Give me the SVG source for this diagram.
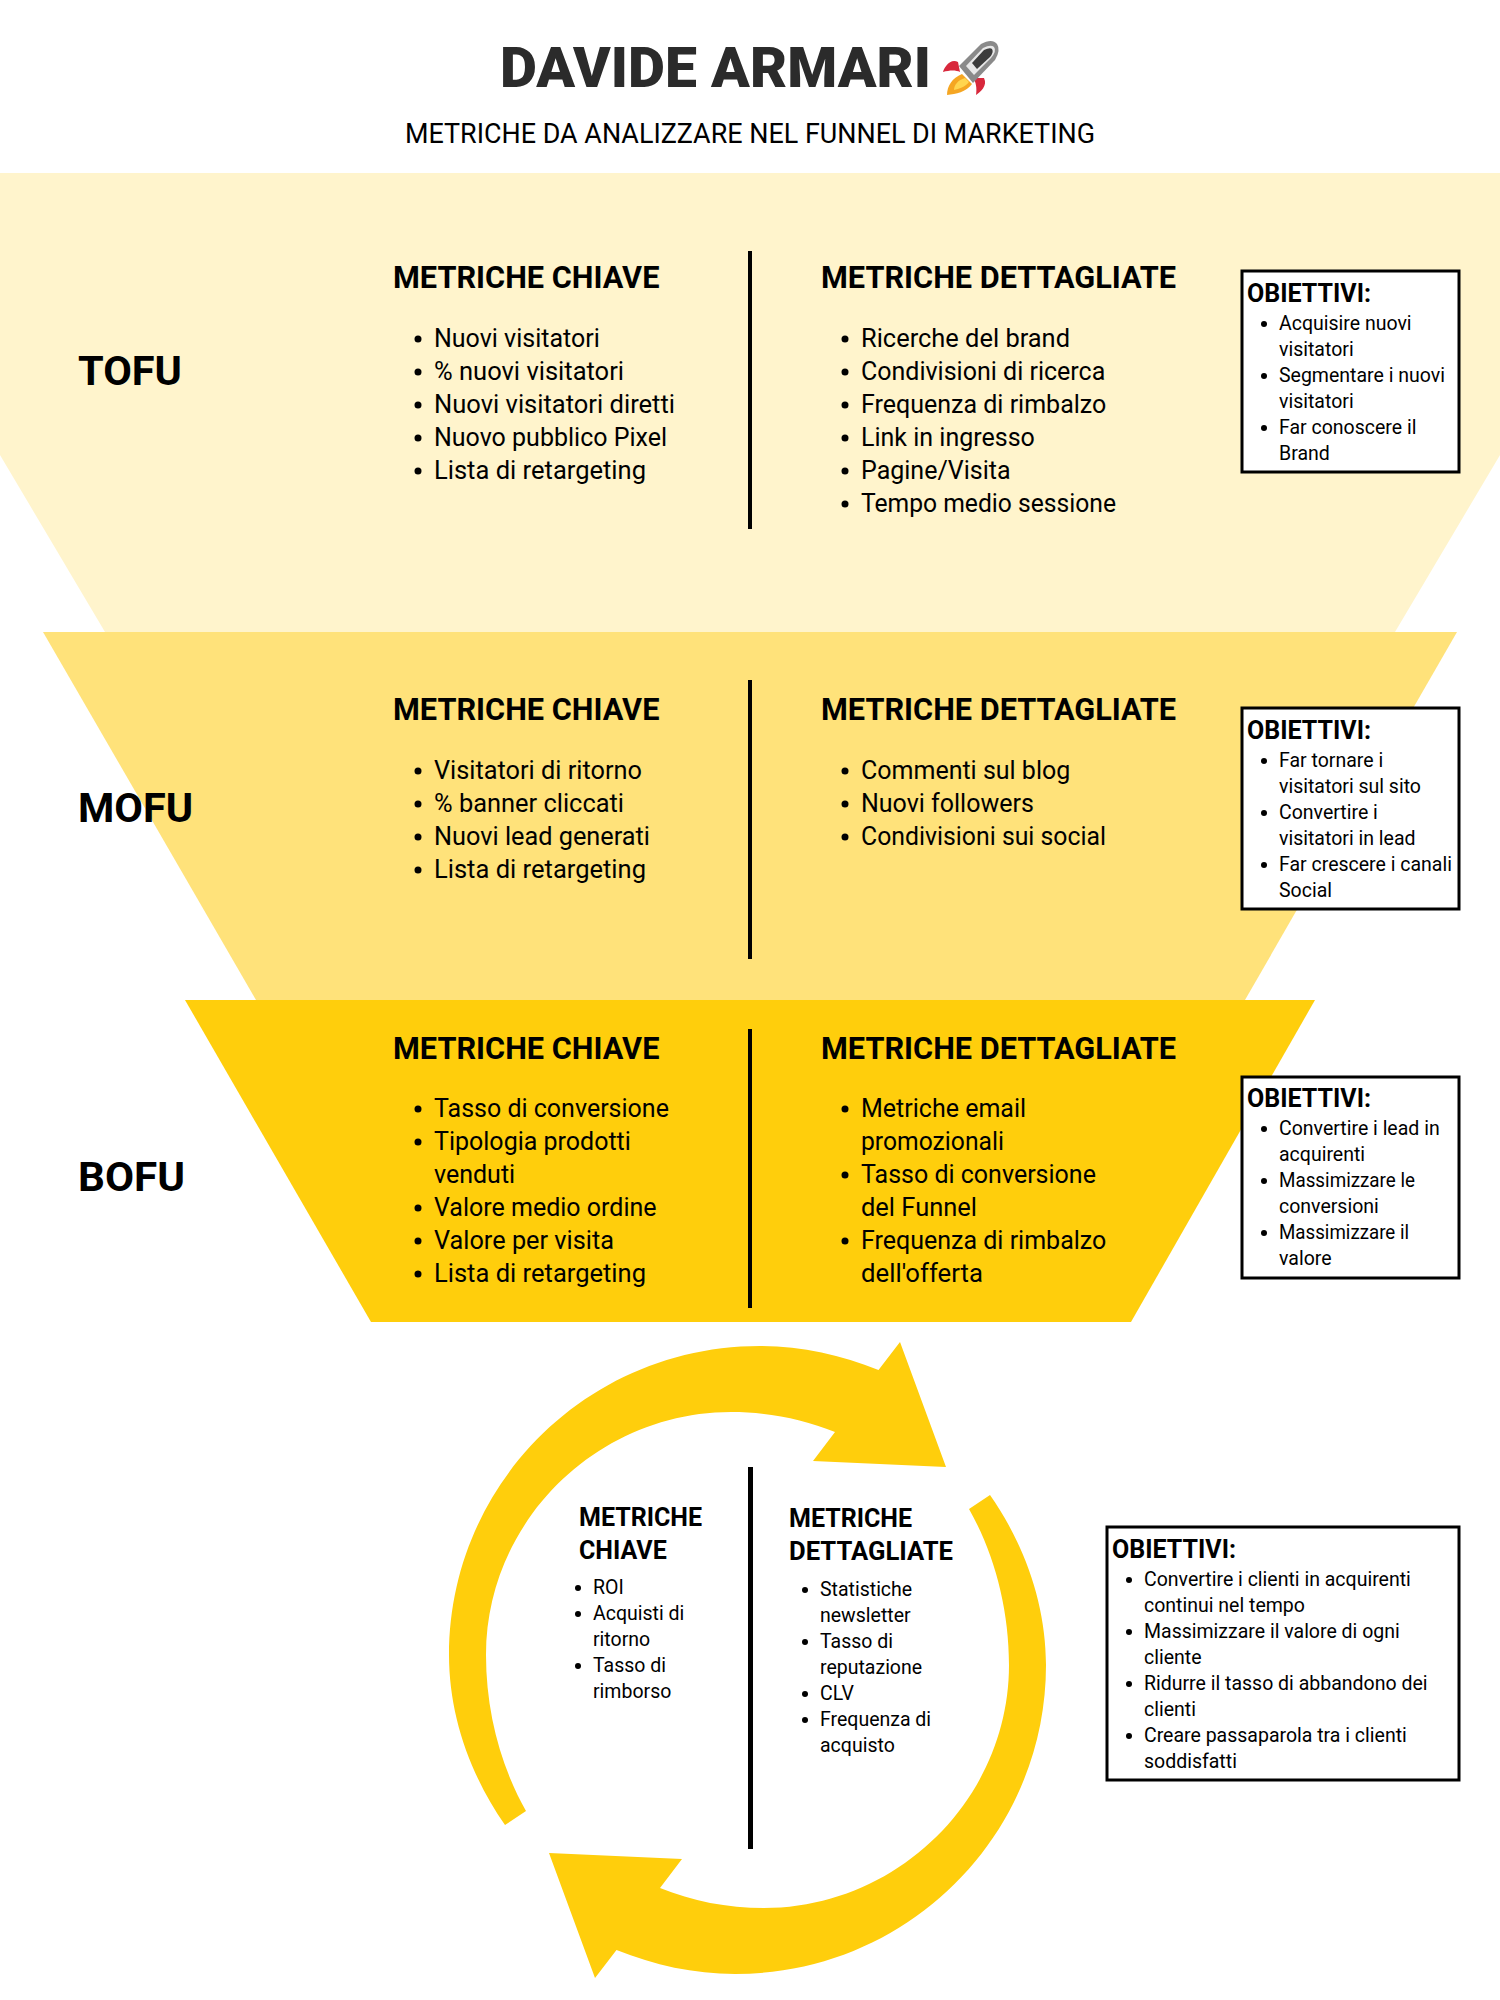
<svg xmlns="http://www.w3.org/2000/svg" width="1500" height="2000" viewBox="0 0 1500 2000">
<style>
text{font-family:Roboto,"Liberation Sans",sans-serif;fill:#000}
.h{font-size:30.7px;font-weight:700}
.l{font-size:25px}
.f{font-size:41.5px;font-weight:700}
.ot{font-size:25px;font-weight:700}
.o{font-size:19.5px}
.rh{font-size:25px;font-weight:700}
.div{fill:#000}
.box{fill:#fff;stroke:#000;stroke-width:3}
.y{fill:#ffce0c}
circle{fill:#000}
</style>
<rect width="1500" height="2000" fill="#fff"/>
<g id="header">
<text x="500" y="87" font-size="55" font-weight="900" style="fill:#2b2b2b" textLength="431" lengthAdjust="spacingAndGlyphs">DAVIDE ARMARI</text>
<text x="405" y="143" font-size="27" textLength="690" lengthAdjust="spacingAndGlyphs">METRICHE DA ANALIZZARE NEL FUNNEL DI MARKETING</text>
<g id="rocket">
<path d="M958 62C950 58 944 68 943 72C950 70 956 70 960 72Z" fill="#d8283c"/>
<path d="M984 78C988 86 980 92 976 95C977 88 976 82 973 78Z" fill="#d8283c"/>
<path d="M962 74L972 84C966 92 956 94 947 95C947 86 952 78 962 74Z" fill="#f5a623"/>
<path d="M965 78L969 82C965 87 959 89 954 90C954 85 958 80 965 78Z" fill="#ffd54f"/>
<path d="M959 66L981 44Q992 38 997 44Q1001 50 995 60L973 83Z" fill="#8a8a8a"/>
<path d="M966 66L983 48Q991 44 994 47Q997 51 991 58L974 75Z" fill="#e8e8e8"/>
<path d="M972 63L984 50Q990 47 992 49Q994 52 990 57L977 69Z" fill="#3c3c3c"/>
</g>
</g>
<g id="tofu">
<path d="M0 173H1500V455L1395 632H105L0 455Z" fill="#fff4cc"/>
<text class="f" x="78" y="385">TOFU</text>
<text class="h" x="393" y="288">METRICHE CHIAVE</text>
<text class="l" x="434" y="347">Nuovi visitatori</text>
<text class="l" x="434" y="380" textLength="190" lengthAdjust="spacingAndGlyphs">% nuovi visitatori</text>
<text class="l" x="434" y="413" textLength="241" lengthAdjust="spacingAndGlyphs">Nuovi visitatori diretti</text>
<text class="l" x="434" y="446">Nuovo pubblico Pixel</text>
<text class="l" x="434" y="479" textLength="212" lengthAdjust="spacingAndGlyphs">Lista di retargeting</text>
<g><circle cx="418" cy="339" r="3.5"/><circle cx="418" cy="372" r="3.5"/><circle cx="418" cy="405" r="3.5"/><circle cx="418" cy="438" r="3.5"/><circle cx="418" cy="471" r="3.5"/></g>
<rect class="div" x="748" y="251" width="4" height="278"/>
<text class="h" x="821" y="288">METRICHE DETTAGLIATE</text>
<text class="l" x="861" y="347" textLength="209" lengthAdjust="spacingAndGlyphs">Ricerche del brand</text>
<text class="l" x="861" y="380">Condivisioni di ricerca</text>
<text class="l" x="861" y="413">Frequenza di rimbalzo</text>
<text class="l" x="861" y="446">Link in ingresso</text>
<text class="l" x="861" y="479">Pagine/Visita</text>
<text class="l" x="861" y="512" textLength="255" lengthAdjust="spacingAndGlyphs">Tempo medio sessione</text>
<g><circle cx="845" cy="339" r="3.5"/><circle cx="845" cy="372" r="3.5"/><circle cx="845" cy="405" r="3.5"/><circle cx="845" cy="438" r="3.5"/><circle cx="845" cy="471" r="3.5"/><circle cx="845" cy="504" r="3.5"/></g>
<g id="obiettivi-tofu">
<rect class="box" x="1242" y="271" width="217" height="201"/>
<text class="ot" x="1247" y="302">OBIETTIVI:</text>
<text class="o" x="1279" y="330">Acquisire nuovi</text>
<text class="o" x="1279" y="356">visitatori</text>
<text class="o" x="1279" y="382">Segmentare i nuovi</text>
<text class="o" x="1279" y="408">visitatori</text>
<text class="o" x="1279" y="434">Far conoscere il</text>
<text class="o" x="1279" y="460">Brand</text>
<g><circle cx="1264" cy="324" r="3"/><circle cx="1264" cy="376" r="3"/><circle cx="1264" cy="428" r="3"/></g>
</g>
</g>
<g id="mofu">
<path d="M43 632H1457L1245 1000H256Z" fill="#ffe27a"/>
<text class="f" x="78" y="822">MOFU</text>
<text class="h" x="393" y="720">METRICHE CHIAVE</text>
<text class="l" x="434" y="779" textLength="208" lengthAdjust="spacingAndGlyphs">Visitatori di ritorno</text>
<text class="l" x="434" y="812" textLength="190" lengthAdjust="spacingAndGlyphs">% banner cliccati</text>
<text class="l" x="434" y="845" textLength="216" lengthAdjust="spacingAndGlyphs">Nuovi lead generati</text>
<text class="l" x="434" y="878" textLength="212" lengthAdjust="spacingAndGlyphs">Lista di retargeting</text>
<g><circle cx="418" cy="771" r="3.5"/><circle cx="418" cy="804" r="3.5"/><circle cx="418" cy="837" r="3.5"/><circle cx="418" cy="870" r="3.5"/></g>
<rect class="div" x="748" y="680" width="4" height="279"/>
<text class="h" x="821" y="720">METRICHE DETTAGLIATE</text>
<text class="l" x="861" y="779">Commenti sul blog</text>
<text class="l" x="861" y="812">Nuovi followers</text>
<text class="l" x="861" y="845" textLength="245" lengthAdjust="spacingAndGlyphs">Condivisioni sui social</text>
<g><circle cx="845" cy="771" r="3.5"/><circle cx="845" cy="804" r="3.5"/><circle cx="845" cy="837" r="3.5"/></g>
<g id="obiettivi-mofu">
<rect class="box" x="1242" y="708" width="217" height="201"/>
<text class="ot" x="1247" y="739">OBIETTIVI:</text>
<text class="o" x="1279" y="767">Far tornare i</text>
<text class="o" x="1279" y="793">visitatori sul sito</text>
<text class="o" x="1279" y="819">Convertire i</text>
<text class="o" x="1279" y="845">visitatori in lead</text>
<text class="o" x="1279" y="871">Far crescere i canali</text>
<text class="o" x="1279" y="897">Social</text>
<g><circle cx="1264" cy="761" r="3"/><circle cx="1264" cy="813" r="3"/><circle cx="1264" cy="865" r="3"/></g>
</g>
</g>
<g id="bofu">
<path class="y" d="M185 1000H1315L1131 1322H371Z"/>
<text class="f" x="78" y="1191" textLength="107" lengthAdjust="spacingAndGlyphs">BOFU</text>
<text class="h" x="393" y="1059">METRICHE CHIAVE</text>
<text class="l" x="434" y="1117">Tasso di conversione</text>
<text class="l" x="434" y="1150">Tipologia prodotti</text>
<text class="l" x="434" y="1183">venduti</text>
<text class="l" x="434" y="1216">Valore medio ordine</text>
<text class="l" x="434" y="1249" textLength="180" lengthAdjust="spacingAndGlyphs">Valore per visita</text>
<text class="l" x="434" y="1282" textLength="212" lengthAdjust="spacingAndGlyphs">Lista di retargeting</text>
<g><circle cx="418" cy="1109" r="3.5"/><circle cx="418" cy="1142" r="3.5"/><circle cx="418" cy="1208" r="3.5"/><circle cx="418" cy="1241" r="3.5"/><circle cx="418" cy="1274" r="3.5"/></g>
<rect class="div" x="748" y="1029" width="4" height="279"/>
<text class="h" x="821" y="1059">METRICHE DETTAGLIATE</text>
<text class="l" x="861" y="1117">Metriche email</text>
<text class="l" x="861" y="1150" textLength="143" lengthAdjust="spacingAndGlyphs">promozionali</text>
<text class="l" x="861" y="1183">Tasso di conversione</text>
<text class="l" x="861" y="1216" textLength="116" lengthAdjust="spacingAndGlyphs">del Funnel</text>
<text class="l" x="861" y="1249">Frequenza di rimbalzo</text>
<text class="l" x="861" y="1282" textLength="122" lengthAdjust="spacingAndGlyphs">dell'offerta</text>
<g><circle cx="845" cy="1109" r="3.5"/><circle cx="845" cy="1175" r="3.5"/><circle cx="845" cy="1241" r="3.5"/></g>
<g id="obiettivi-bofu">
<rect class="box" x="1242" y="1077" width="217" height="201"/>
<text class="ot" x="1247" y="1107">OBIETTIVI:</text>
<text class="o" x="1279" y="1135">Convertire i lead in</text>
<text class="o" x="1279" y="1161">acquirenti</text>
<text class="o" x="1279" y="1187" textLength="136" lengthAdjust="spacingAndGlyphs">Massimizzare le</text>
<text class="o" x="1279" y="1213">conversioni</text>
<text class="o" x="1279" y="1239" textLength="130" lengthAdjust="spacingAndGlyphs">Massimizzare il</text>
<text class="o" x="1279" y="1265">valore</text>
<g><circle cx="1264" cy="1129" r="3"/><circle cx="1264" cy="1181" r="3"/><circle cx="1264" cy="1233" r="3"/></g>
</g>
</g>
<g id="cycle">
<path id="arrow-a" class="y" d="M505 1825C470 1775 449 1715 449 1655C449 1485 587 1346 760 1346C801 1346 841 1355 878.5 1370L900 1342L946 1467L813 1461L835 1432C803 1419 768 1412 731 1412C598 1412 486 1521 486 1655C486 1712 501 1767 526 1811Z"/>
<path id="arrow-b" class="y" transform="rotate(180 747.5 1660)" d="M505 1825C470 1775 449 1715 449 1655C449 1485 587 1346 760 1346C801 1346 841 1355 878.5 1370L900 1342L946 1467L813 1461L835 1432C803 1419 768 1412 731 1412C598 1412 486 1521 486 1655C486 1712 501 1767 526 1811Z"/>
<rect class="div" x="748" y="1467" width="5" height="382"/>
<text class="rh" x="579" y="1526">METRICHE</text>
<text class="rh" x="579" y="1559">CHIAVE</text>
<text class="o" x="593" y="1594">ROI</text>
<text class="o" x="593" y="1620">Acquisti di</text>
<text class="o" x="593" y="1646">ritorno</text>
<text class="o" x="593" y="1672">Tasso di</text>
<text class="o" x="593" y="1698">rimborso</text>
<g><circle cx="578" cy="1588" r="3"/><circle cx="578" cy="1614" r="3"/><circle cx="578" cy="1666" r="3"/></g>
<text class="rh" x="789" y="1527">METRICHE</text>
<text class="rh" x="789" y="1560" textLength="164" lengthAdjust="spacingAndGlyphs">DETTAGLIATE</text>
<text class="o" x="820" y="1596">Statistiche</text>
<text class="o" x="820" y="1622">newsletter</text>
<text class="o" x="820" y="1648">Tasso di</text>
<text class="o" x="820" y="1674">reputazione</text>
<text class="o" x="820" y="1700">CLV</text>
<text class="o" x="820" y="1726">Frequenza di</text>
<text class="o" x="820" y="1752">acquisto</text>
<g><circle cx="805" cy="1590" r="3"/><circle cx="805" cy="1642" r="3"/><circle cx="805" cy="1694" r="3"/><circle cx="805" cy="1720" r="3"/></g>
<g id="obiettivi-cycle">
<rect class="box" x="1107" y="1527" width="352" height="253"/>
<text class="ot" x="1112" y="1558">OBIETTIVI:</text>
<text class="o" x="1144" y="1586">Convertire i clienti in acquirenti</text>
<text class="o" x="1144" y="1612">continui nel tempo</text>
<text class="o" x="1144" y="1638">Massimizzare il valore di ogni</text>
<text class="o" x="1144" y="1664">cliente</text>
<text class="o" x="1144" y="1690">Ridurre il tasso di abbandono dei</text>
<text class="o" x="1144" y="1716">clienti</text>
<text class="o" x="1144" y="1742">Creare passaparola tra i clienti</text>
<text class="o" x="1144" y="1768">soddisfatti</text>
<g><circle cx="1129" cy="1580" r="3"/><circle cx="1129" cy="1632" r="3"/><circle cx="1129" cy="1684" r="3"/><circle cx="1129" cy="1736" r="3"/></g>
</g>
</g>
</svg>
